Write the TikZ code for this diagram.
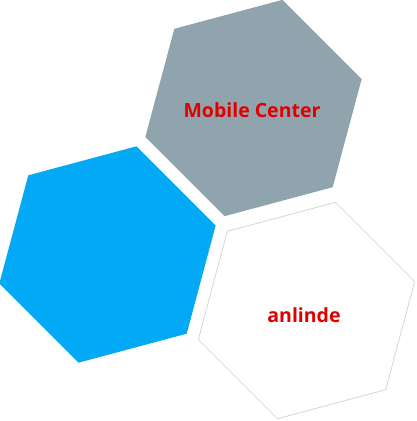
\documentclass[tikz,border=0pt]{standalone}
\usepackage{fontspec}
\setmainfont{Open Sans}
\usetikzlibrary{calc}
\definecolor{hexgray}{HTML}{90A4AE}
\definecolor{hexblue}{HTML}{03A9F4}
\definecolor{hexline}{HTML}{CFD8DC}
\definecolor{labred}{HTML}{E00000}
\begin{document}
\begin{tikzpicture}[x=1pt,y=-1pt,
  hexout/.style={fill=white,draw=hexline,line width=0.8pt},
  lab/.style={text=labred,font=\bfseries\fontsize{19.5}{23}\selectfont,inner sep=0pt}]
\useasboundingbox (0,0) rectangle (416,421);
\coordinate (cg) at (253.5,108);
\coordinate (cb) at (107.5,254.5);
\coordinate (cw) at (306.5,310.5);
\fill[hexgray] ($(cg)+(-15:112)$) \foreach \a in {-75,-135,-195,-255,-315} { -- ($(cg)+(\a:112)$) } -- cycle;
\fill[hexblue] ($(cb)+(-15:112)$) \foreach \a in {-75,-135,-195,-255,-315} { -- ($(cb)+(\a:112)$) } -- cycle;
\draw[hexout] ($(cw)+(-15:112)$) \foreach \a in {-75,-135,-195,-255,-315} { -- ($(cw)+(\a:112)$) } -- cycle;
\node[lab] (mc) at (252,110) {Mobile Center};
\node[lab] (an) at (304,315) {anlinde};
\end{tikzpicture}
\end{document}
